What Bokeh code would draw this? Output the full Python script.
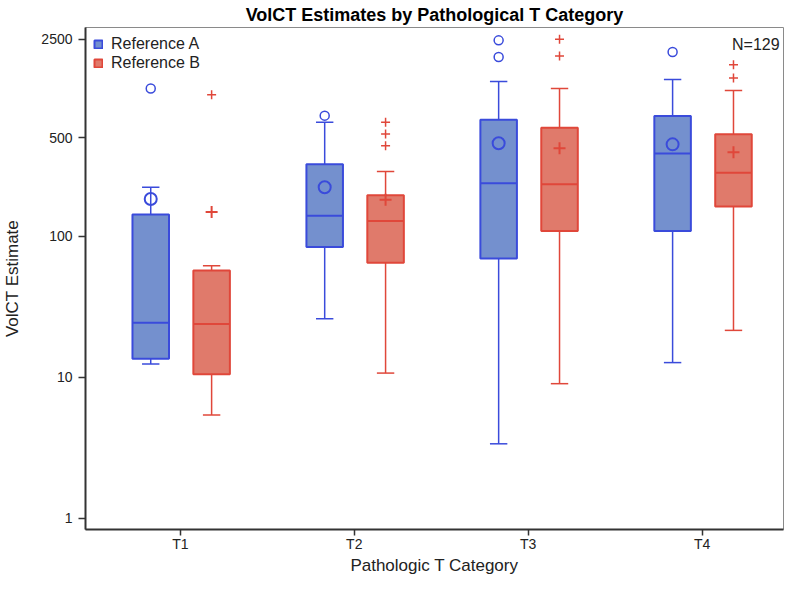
from bokeh.plotting import figure
from bokeh.models import (ColumnDataSource, FixedTicker, Legend, LegendItem,
                          Label, Range1d, NumeralTickFormatter)
from bokeh.transform import dodge
from bokeh.embed import file_html
from bokeh.resources import INLINE

# ---------------- data ----------------
cats = ["T1", "T2", "T3", "T4"]
groups = ["Reference A", "Reference B"]

a_low = [12.4, 26.0, 3.37, 12.7]
a_q1 = [13.5, 83.8, 69.6, 108.9]
a_med = [24.4, 140.0, 238.0, 387.0]
a_q3 = [142.6, 325.0, 672.0, 715.0]
a_high = [223.0, 644.0, 1254.0, 1297.0]
a_mean = [184.0, 223.0, 457.0, 449.0]
a_out_cat = ["T1", "T2", "T3", "T3", "T4"]
a_out_val = [1117.0, 718.0, 2456.0, 1871.0, 2031.0]

b_low = [5.39, 10.7, 9.0, 21.5]
b_q1 = [10.5, 64.9, 108.9, 163.0]
b_med = [23.9, 128.3, 234.0, 282.0]
b_q3 = [57.2, 195.6, 590.0, 529.0]
b_high = [61.8, 288.6, 1117.0, 1082.0]
b_mean = [149.0, 182.0, 421.0, 394.0]
b_out_cat = ["T1", "T2", "T2", "T2", "T3", "T3", "T4", "T4"]
b_out_val = [1008.0, 644.0, 532.0, 439.0, 2497.0, 1902.0, 1649.0, 1326.0]

y_ticks = [1, 10, 100, 500, 2500]
n_text = "N=129"
title_text = "VolCT Estimates by Pathological T Category"
x_title = "Pathologic T Category"
y_title = "VolCT Estimate"

# category positions on the x scale (1..n)
xi = [i + 1 for i in range(len(cats))]
pos = dict(zip(cats, xi))

# ---------------- styling ----------------
FONT = "Liberation Sans"
A_LINE = "#3A4BDB"
A_FILL = "#7490CE"
B_LINE = "#E0473A"
B_FILL = "#E07A6B"
OFF_A = -0.17
OFF_B = 0.18
BOX_W = 0.21
CAP_W = 0.10

p = figure(width=784, height=579,
           x_range=Range1d(0.455, 4.4675),
           y_range=Range1d(0.831, 3030), y_axis_type="log",
           output_backend="svg", toolbar_location=None,
           min_border_left=85, min_border_right=1, min_border_bottom=50, min_border_top=0)

p.title.text = title_text
p.title.align = "center"
p.title.text_font = FONT
p.title.text_font_size = "18px"
p.title.text_font_style = "bold"
p.title.text_color = "black"
p.title.standoff = 5
p.title.offset = 0

p.xgrid.visible = False
p.ygrid.visible = False
p.outline_line_color = "#8a8a8a"
p.outline_line_width = 1


def draw(low, q1, med, q3, high, mean, out_cat, out_val, off, line, fill, mean_marker, out_marker):
    src = ColumnDataSource(dict(x=xi, low=low, q1=q1, med=med, q3=q3, high=high, mean=mean))
    xc = dodge("x", off)
    p.segment(x0=xc, y0="q3", x1=xc, y1="high", source=src, line_color=line, line_width=1.5)
    p.segment(x0=xc, y0="q1", x1=xc, y1="low", source=src, line_color=line, line_width=1.5)
    p.segment(x0=dodge("x", off - CAP_W / 2), y0="high",
              x1=dodge("x", off + CAP_W / 2), y1="high",
              source=src, line_color=line, line_width=1.5)
    p.segment(x0=dodge("x", off - CAP_W / 2), y0="low",
              x1=dodge("x", off + CAP_W / 2), y1="low",
              source=src, line_color=line, line_width=1.5)
    box = p.vbar(x=xc, width=BOX_W, bottom="q1", top="q3", source=src,
                 fill_color=fill, line_color=line, line_width=2)
    p.segment(x0=dodge("x", off - BOX_W / 2), y0="med",
              x1=dodge("x", off + BOX_W / 2), y1="med",
              source=src, line_color=line, line_width=2)
    p.scatter(x=xc, y="mean", source=src, marker=mean_marker, size=12,
              fill_color=None, line_color=line, line_width=2)
    osrc = ColumnDataSource(dict(x=[pos[c] for c in out_cat], val=out_val))
    p.scatter(x=dodge("x", off), y="val", source=osrc, marker=out_marker,
              size=9, fill_color=None, line_color=line, line_width=1.5)
    return box


box_a = draw(a_low, a_q1, a_med, a_q3, a_high, a_mean, a_out_cat, a_out_val,
             OFF_A, A_LINE, A_FILL, "circle", "circle")
box_b = draw(b_low, b_q1, b_med, b_q3, b_high, b_mean, b_out_cat, b_out_val,
             OFF_B, B_LINE, B_FILL, "cross", "cross")

legend = Legend(items=[LegendItem(label=groups[0], renderers=[box_a]),
                       LegendItem(label=groups[1], renderers=[box_b])],
                location="top_left", margin=8, padding=3, spacing=1,
                glyph_width=10, glyph_height=10, label_height=14, label_standoff=8,
                label_text_font=FONT, label_text_font_size="16px", label_text_color="#222222",
                border_line_color=None, background_fill_color=None)
p.add_layout(legend)

p.add_layout(Label(x=4.445, y=2300, text=n_text, text_align="right", text_baseline="middle",
                   text_font=FONT, text_font_size="16px", text_color="#222222"))

for ax in (p.xaxis[0], p.yaxis[0]):
    ax.axis_line_color = "#333333"
    ax.axis_line_width = 2
    ax.major_tick_line_color = "#333333"
    ax.major_tick_line_width = 1.5
    ax.major_tick_in = 0
    ax.major_tick_out = 7
    ax.minor_tick_line_color = None
    ax.major_label_text_font = FONT
    ax.major_label_text_font_size = "14px"
    ax.major_label_text_color = "#222222"
    ax.axis_label_text_font = FONT
    ax.axis_label_text_font_size = "17px"
    ax.axis_label_text_font_style = "normal"
    ax.axis_label_text_color = "#222222"

p.yaxis.ticker = FixedTicker(ticks=y_ticks, minor_ticks=[])
p.yaxis.formatter = NumeralTickFormatter(format="0")
p.yaxis.major_label_standoff = 6
p.yaxis.axis_label = y_title
p.yaxis.axis_label_standoff = 16

p.xaxis.ticker = FixedTicker(ticks=xi, minor_ticks=[])
p.xaxis.major_label_overrides = {x: c for x, c in zip(xi, cats)}
p.xaxis.major_tick_out = 6
p.xaxis.axis_label = x_title
p.xaxis.major_label_standoff = 0
p.xaxis.axis_label_standoff = 1

open("out.html", "w").write(file_html(p, INLINE))
